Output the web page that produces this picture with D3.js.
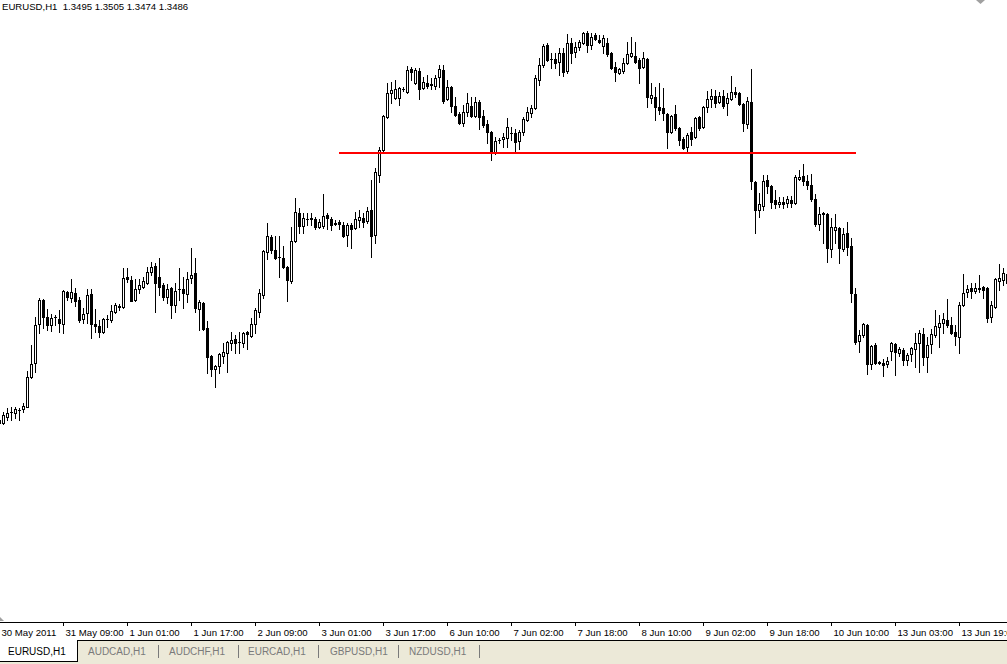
<!DOCTYPE html>
<html>
<head>
<meta charset="utf-8">
<script src="https://cdnjs.cloudflare.com/ajax/libs/d3/7.8.5/d3.min.js"></script>
<style>
html,body{margin:0;padding:0;background:#fff;overflow:hidden;}
svg{display:block;}
text{font-family:"Liberation Sans",Arial,sans-serif;}
</style>
</head>
<body>
<script>
// ---- DATA (EURUSD H1, bars from index -1 = 30 May 17:00) ----
const symbol = "EURUSD,H1";
const firstBarIndex = -1;
const open = [1.3349,
1.3346,1.3352,1.3357,1.3356,1.3359,1.3360,1.3362,1.3392,1.3406,1.3445,
1.3469,1.3452,1.3444,1.3452,1.3450,1.3445,1.3477,1.3471,1.3476,1.3469,
1.3450,1.3456,1.3475,1.3445,1.3443,1.3437,1.3450,1.3449,1.3457,1.3463,
1.3462,1.3492,1.3489,1.3469,1.3480,1.3482,1.3486,1.3497,1.3503,1.3492,
1.3484,1.3472,1.3481,1.3464,1.3480,1.3480,1.3475,1.3491,1.3496,1.3460,
1.3466,1.3441,1.3413,1.3400,1.3403,1.3413,1.3416,1.3426,1.3430,1.3427,
1.3426,1.3437,1.3433,1.3445,1.3457,1.3474,1.3517,1.3532,1.3519,1.3512,
1.3511,1.3502,1.3488,1.3528,1.3556,1.3543,1.3550,1.3551,1.3550,1.3542,
1.3543,1.3554,1.3550,1.3546,1.3547,1.3544,1.3534,1.3544,1.3541,1.3549,
1.3551,1.3548,1.3559,1.3534,1.3594,1.3619,1.3652,1.3676,1.3671,1.3671,
1.3680,1.3677,1.3700,1.3686,1.3698,1.3681,1.3686,1.3685,1.3683,1.3692,
1.3699,1.3670,1.3682,1.3663,1.3655,1.3646,1.3657,1.3663,1.3653,1.3667,
1.3653,1.3645,1.3637,1.3616,1.3629,1.3630,1.3631,1.3636,1.3636,1.3628,
1.3637,1.3649,1.3656,1.3661,1.3689,1.3704,1.3724,1.3710,1.3710,1.3707,
1.3716,1.3698,1.3726,1.3717,1.3722,1.3726,1.3736,1.3724,1.3734,1.3729,
1.3723,1.3726,1.3716,1.3702,1.3696,1.3698,1.3706,1.3713,1.3713,1.3709,
1.3702,1.3710,1.3671,1.3672,1.3662,1.3661,1.3655,1.3637,1.3655,1.3641,
1.3630,1.3622,1.3637,1.3632,1.3652,1.3642,1.3662,1.3670,1.3673,1.3667,
1.3673,1.3666,1.3670,1.3677,1.3676,1.3665,1.3645,1.3667,1.3587,1.3559,
1.3563,1.3589,1.3583,1.3569,1.3565,1.3567,1.3566,1.3569,1.3566,1.3590,
1.3593,1.3588,1.3584,1.3570,1.3545,1.3556,1.3555,1.3520,1.3539,1.3541,
1.3520,1.3536,1.3523,1.3475,1.3428,1.3434,1.3444,1.3405,1.3424,1.3407,
1.3406,1.3405,1.3418,1.3425,1.3416,1.3419,1.3409,1.3415,1.3420,1.3426,
1.3435,1.3412,1.3425,1.3434,1.3442,1.3446,1.3449,1.3444,1.3437,1.3432,
1.3464,1.3477,1.3481,1.3478,1.3481,1.3482,1.3481,1.3452,1.3462,1.3488,
1.3489,1.3495];
const high = [1.3351,
1.3357,1.3361,1.3362,1.3362,1.3361,1.3366,1.3398,1.3424,1.3452,1.3471,
1.3470,1.3460,1.3455,1.3454,1.3459,1.3479,1.3478,1.3490,1.3481,1.3472,
1.3461,1.3480,1.3480,1.3460,1.3449,1.3451,1.3454,1.3464,1.3466,1.3465,
1.3501,1.3501,1.3493,1.3490,1.3490,1.3492,1.3502,1.3507,1.3506,1.3511,
1.3486,1.3485,1.3482,1.3486,1.3501,1.3492,1.3497,1.3521,1.3511,1.3469,
1.3467,1.3448,1.3414,1.3404,1.3416,1.3426,1.3428,1.3437,1.3434,1.3437,
1.3437,1.3438,1.3451,1.3461,1.3480,1.3519,1.3546,1.3534,1.3533,1.3533,
1.3523,1.3503,1.3542,1.3571,1.3561,1.3556,1.3556,1.3556,1.3552,1.3550,
1.3575,1.3556,1.3552,1.3549,1.3549,1.3547,1.3546,1.3546,1.3557,1.3559,
1.3556,1.3562,1.3589,1.3601,1.3622,1.3654,1.3686,1.3687,1.3689,1.3682,
1.3682,1.3703,1.3702,1.3701,1.3701,1.3692,1.3694,1.3691,1.3694,1.3704,
1.3704,1.3689,1.3683,1.3672,1.3657,1.3664,1.3676,1.3672,1.3672,1.3669,
1.3659,1.3649,1.3638,1.3632,1.3631,1.3636,1.3651,1.3642,1.3640,1.3639,
1.3652,1.3662,1.3664,1.3694,1.3711,1.3725,1.3726,1.3716,1.3716,1.3721,
1.3721,1.3735,1.3731,1.3727,1.3729,1.3737,1.3738,1.3736,1.3736,1.3734,
1.3734,1.3731,1.3717,1.3707,1.3701,1.3711,1.3727,1.3732,1.3727,1.3711,
1.3717,1.3711,1.3686,1.3682,1.3686,1.3681,1.3656,1.3654,1.3664,1.3642,
1.3632,1.3636,1.3642,1.3652,1.3653,1.3663,1.3678,1.3680,1.3679,1.3677,
1.3679,1.3676,1.3693,1.3682,1.3677,1.3666,1.3672,1.3700,1.3588,1.3576,
1.3594,1.3594,1.3584,1.3579,1.3572,1.3572,1.3573,1.3573,1.3594,1.3599,
1.3605,1.3594,1.3595,1.3575,1.3562,1.3557,1.3556,1.3551,1.3555,1.3542,
1.3541,1.3547,1.3531,1.3481,1.3439,1.3446,1.3445,1.3424,1.3426,1.3408,
1.3410,1.3412,1.3427,1.3426,1.3422,1.3421,1.3416,1.3422,1.3436,1.3439,
1.3441,1.3432,1.3440,1.3459,1.3454,1.3456,1.3470,1.3452,1.3444,1.3467,
1.3495,1.3484,1.3486,1.3486,1.3494,1.3483,1.3482,1.3468,1.3491,1.3505,
1.3501,1.3505];
const low = [1.3345,
1.3345,1.3349,1.3349,1.3351,1.3349,1.3357,1.3362,1.3391,1.3397,1.3436,
1.3441,1.3439,1.3438,1.3444,1.3437,1.3436,1.3469,1.3467,1.3463,1.3447,
1.3446,1.3446,1.3431,1.3437,1.3432,1.3436,1.3442,1.3447,1.3456,1.3459,
1.3461,1.3487,1.3468,1.3468,1.3476,1.3481,1.3485,1.3494,1.3457,1.3474,
1.3469,1.3466,1.3451,1.3457,1.3469,1.3461,1.3467,1.3486,1.3457,1.3439,
1.3439,1.3396,1.3393,1.3382,1.3396,1.3406,1.3397,1.3419,1.3416,1.3416,
1.3422,1.3420,1.3432,1.3436,1.3452,1.3471,1.3510,1.3516,1.3510,1.3492,
1.3501,1.3468,1.3486,1.3527,1.3536,1.3536,1.3544,1.3544,1.3540,1.3541,
1.3541,1.3540,1.3539,1.3544,1.3540,1.3532,1.3523,1.3521,1.3540,1.3542,
1.3542,1.3546,1.3512,1.3526,1.3587,1.3617,1.3651,1.3666,1.3670,1.3664,
1.3678,1.3676,1.3689,1.3685,1.3670,1.3680,1.3681,1.3680,1.3680,1.3682,
1.3666,1.3669,1.3657,1.3653,1.3645,1.3643,1.3653,1.3652,1.3652,1.3640,
1.3642,1.3626,1.3609,1.3615,1.3626,1.3622,1.3622,1.3629,1.3617,1.3620,
1.3634,1.3648,1.3652,1.3660,1.3684,1.3702,1.3708,1.3701,1.3701,1.3694,
1.3693,1.3696,1.3706,1.3712,1.3719,1.3725,1.3717,1.3720,1.3729,1.3726,
1.3716,1.3713,1.3700,1.3688,1.3695,1.3696,1.3705,1.3712,1.3706,1.3686,
1.3701,1.3662,1.3666,1.3649,1.3655,1.3649,1.3621,1.3636,1.3639,1.3624,
1.3620,1.3617,1.3624,1.3631,1.3639,1.3641,1.3657,1.3662,1.3662,1.3666,
1.3661,1.3654,1.3669,1.3672,1.3664,1.3638,1.3641,1.3580,1.3536,1.3552,
1.3559,1.3576,1.3561,1.3561,1.3562,1.3561,1.3562,1.3562,1.3565,1.3589,
1.3584,1.3580,1.3568,1.3543,1.3539,1.3526,1.3507,1.3512,1.3526,1.3506,
1.3518,1.3514,1.3467,1.3425,1.3417,1.3432,1.3395,1.3400,1.3405,1.3405,
1.3393,1.3402,1.3409,1.3394,1.3413,1.3404,1.3404,1.3408,1.3402,1.3397,
1.3404,1.3397,1.3416,1.3432,1.3422,1.3436,1.3442,1.3435,1.3424,1.3416,
1.3463,1.3472,1.3471,1.3476,1.3477,1.3471,1.3447,1.3447,1.3461,1.3479,
1.3484,1.3474];
const close = [1.3346,
1.3354,1.3356,1.3357,1.3360,1.3359,1.3363,1.3392,1.3405,1.3444,1.3469,
1.3452,1.3444,1.3451,1.3452,1.3446,1.3478,1.3472,1.3477,1.3468,1.3449,
1.3455,1.3474,1.3445,1.3443,1.3437,1.3450,1.3450,1.3458,1.3464,1.3462,
1.3491,1.3490,1.3468,1.3480,1.3484,1.3488,1.3497,1.3502,1.3486,1.3482,
1.3472,1.3480,1.3464,1.3478,1.3480,1.3476,1.3490,1.3494,1.3461,1.3467,
1.3440,1.3412,1.3400,1.3403,1.3415,1.3417,1.3427,1.3429,1.3426,1.3427,
1.3436,1.3435,1.3445,1.3459,1.3476,1.3518,1.3533,1.3519,1.3511,1.3512,
1.3502,1.3489,1.3528,1.3557,1.3543,1.3551,1.3550,1.3550,1.3542,1.3547,
1.3553,1.3551,1.3544,1.3545,1.3545,1.3533,1.3544,1.3540,1.3550,1.3552,
1.3547,1.3558,1.3533,1.3597,1.3619,1.3653,1.3676,1.3679,1.3680,1.3681,
1.3680,1.3699,1.3697,1.3699,1.3680,1.3687,1.3683,1.3684,1.3691,1.3700,
1.3668,1.3682,1.3663,1.3654,1.3646,1.3657,1.3666,1.3653,1.3667,1.3652,
1.3644,1.3637,1.3616,1.3628,1.3629,1.3632,1.3642,1.3636,1.3627,1.3637,
1.3650,1.3657,1.3661,1.3691,1.3704,1.3723,1.3709,1.3710,1.3706,1.3716,
1.3697,1.3726,1.3716,1.3722,1.3727,1.3736,1.3724,1.3732,1.3730,1.3727,
1.3731,1.3715,1.3701,1.3697,1.3700,1.3706,1.3715,1.3716,1.3707,1.3701,
1.3711,1.3672,1.3674,1.3662,1.3659,1.3656,1.3637,1.3653,1.3641,1.3629,
1.3621,1.3634,1.3630,1.3651,1.3641,1.3662,1.3670,1.3673,1.3666,1.3673,
1.3663,1.3671,1.3677,1.3675,1.3665,1.3646,1.3668,1.3588,1.3559,1.3565,
1.3588,1.3583,1.3567,1.3565,1.3567,1.3565,1.3570,1.3566,1.3592,1.3592,
1.3588,1.3584,1.3570,1.3545,1.3555,1.3555,1.3521,1.3542,1.3542,1.3521,
1.3535,1.3522,1.3476,1.3427,1.3434,1.3445,1.3405,1.3423,1.3406,1.3406,
1.3404,1.3408,1.3426,1.3417,1.3420,1.3409,1.3414,1.3421,1.3426,1.3436,
1.3412,1.3424,1.3435,1.3443,1.3446,1.3450,1.3444,1.3436,1.3433,1.3464,
1.3476,1.3480,1.3478,1.3481,1.3480,1.3479,1.3451,1.3464,1.3490,1.3491,
1.3496,1.3486];
const tickBars = [-1, 15, 31, 47, 63, 79, 95, 111, 127, 143, 159, 175, 191, 207, 223, 239];
const tickLabels = ["30 May 2011","31 May 09:00","1 Jun 01:00","1 Jun 17:00","2 Jun 09:00","3 Jun 01:00","3 Jun 17:00","6 Jun 10:00","7 Jun 02:00","7 Jun 18:00","8 Jun 10:00","9 Jun 02:00","9 Jun 18:00","10 Jun 10:00","13 Jun 03:00","13 Jun 19:00"];
const levelPrice = 1.3616;          // horizontal support/resistance line
const levelBars = [84, 213.25];     // its start/end bar positions
const tabs = ["EURUSD,H1","AUDCAD,H1","AUDCHF,H1","EURCAD,H1","GBPUSD,H1","NZDUSD,H1"];

// ---- CHART ----
const W = 1007, H = 664, axisY = 622;
const svg = d3.select("body").append("svg").attr("width", W).attr("height", H);
svg.append("rect").attr("width", W).attr("height", H).attr("fill", "#fff");

const bars = open.map((o, i) => ({k: firstBarIndex + i, o, h: high[i], l: low[i], c: close[i]}));
const x = d3.scaleLinear().domain([0, 1]).range([3, 7]);
const y = d3.scaleLinear().domain([1.3147, 1.3769]).range([axisY, 0]);
const py = v => Math.round(y(v));

svg.append("defs").append("clipPath").attr("id", "plot")
  .append("rect").attr("x", 0).attr("y", 0).attr("width", W).attr("height", axisY);
const g = svg.append("g").attr("clip-path", "url(#plot)").attr("shape-rendering", "crispEdges");

// wicks
g.selectAll("line.wick").data(bars).join("line").attr("class", "wick")
  .attr("x1", d => x(d.k) + 0.5).attr("x2", d => x(d.k) + 0.5)
  .attr("y1", d => py(d.h)).attr("y2", d => py(d.l) + 1)
  .attr("stroke", "#000").attr("stroke-width", 1);

// bodies
const bodies = bars.filter(d => py(d.o) !== py(d.c));
g.selectAll("rect.body").data(bodies).join("rect").attr("class", "body")
  .attr("x", d => x(d.k) - 0.5)
  .attr("y", d => Math.min(py(d.o), py(d.c)) + 0.5)
  .attr("width", 2)
  .attr("height", d => Math.abs(py(d.o) - py(d.c)))
  .attr("fill", d => d.c > d.o ? "#fff" : "#000")
  .attr("stroke", "#000").attr("stroke-width", 1);

// doji
const dojis = bars.filter(d => py(d.o) === py(d.c));
g.selectAll("line.doji").data(dojis).join("line").attr("class", "doji")
  .attr("x1", d => x(d.k) - 1).attr("x2", d => x(d.k) + 2)
  .attr("y1", d => py(d.o) + 0.5).attr("y2", d => py(d.o) + 0.5)
  .attr("stroke", "#000").attr("stroke-width", 1);

// red level line
g.append("line")
  .attr("x1", x(levelBars[0])).attr("x2", x(levelBars[1]))
  .attr("y1", py(levelPrice)).attr("y2", py(levelPrice))
  .attr("stroke", "#ff0000").attr("stroke-width", 2);

// header
const last = bars[bars.length - 1];
const f4 = d3.format(".4f");
svg.append("text").attr("x", 2).attr("y", 10).attr("font-size", 9.6).attr("fill", "#000")
  .style("white-space", "pre")
  .text(`${symbol}  ${f4(last.o)} ${f4(last.h)} ${f4(last.l)} ${f4(last.c)}`);

// shift marker
svg.append("path").attr("d", "M976,0 L985,0 L980.5,4 Z").attr("fill", "#a0a0a0");
svg.append("path").attr("d", "M0,617 L4,621 L0,621 Z").attr("fill", "#a0a0a0");

// time axis
const ax = svg.append("g").attr("shape-rendering", "crispEdges");
ax.append("line").attr("x1", 0).attr("x2", W).attr("y1", axisY + 0.5).attr("y2", axisY + 0.5).attr("stroke", "#000");
ax.selectAll("line.tick").data(tickBars).join("line").attr("class", "tick")
  .attr("x1", d => x(d) + 0.5).attr("x2", d => x(d) + 0.5)
  .attr("y1", axisY).attr("y2", axisY + 4).attr("stroke", "#000");
svg.selectAll("text.tl").data(tickBars).join("text").attr("class", "tl")
  .attr("x", (d) => x(d) + 2.5).attr("y", 636).attr("font-size", 9.6).attr("fill", "#000")
  .text((d, i) => tickLabels[i]);

// tab bar
const tb = svg.append("g").attr("shape-rendering", "crispEdges");
tb.append("rect").attr("x", 0).attr("y", 640).attr("width", W).attr("height", 24).attr("fill", "#ece9d8");
tb.append("line").attr("x1", 77).attr("x2", W).attr("y1", 640.5).attr("y2", 640.5).attr("stroke", "#000");
tb.append("rect").attr("x", 0).attr("y", 640).attr("width", 77).attr("height", 21).attr("fill", "#fff");
tb.append("line").attr("x1", 77.5).attr("x2", 77.5).attr("y1", 640).attr("y2", 661).attr("stroke", "#000");
tb.append("line").attr("x1", 0).attr("x2", 78).attr("y1", 661.5).attr("y2", 661.5).attr("stroke", "#000");
const tabX = [8, 88, 169, 248, 330, 409];
const sepX = [158, 238, 318, 398, 479];
svg.selectAll("text.tab").data(tabs).join("text").attr("class", "tab")
  .attr("x", (d, i) => tabX[i]).attr("y", 655).attr("font-size", 10)
  .attr("fill", (d, i) => i === 0 ? "#000" : "#7a7a7a").text(d => d);
tb.selectAll("line.sep").data(sepX).join("line").attr("class", "sep")
  .attr("x1", d => d + 0.5).attr("x2", d => d + 0.5).attr("y1", 645).attr("y2", 658).attr("stroke", "#7a7a7a");
</script>
</body>
</html>
